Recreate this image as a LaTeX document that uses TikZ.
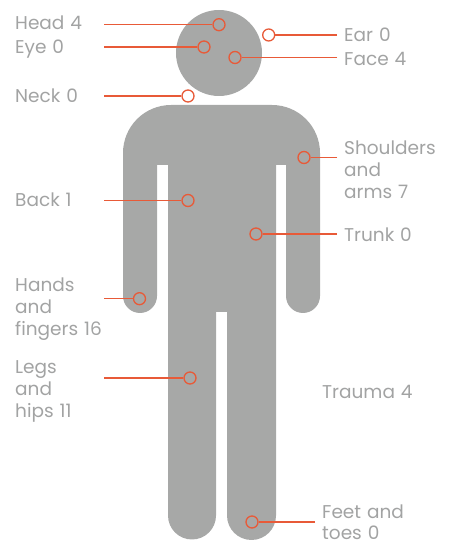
\documentclass[tikz,border=0pt]{standalone}
\usepackage{fontspec}
\setmainfont[WordSpace=1.2]{Poppins}
\definecolor{figgrey}{HTML}{A7A8A7}
\definecolor{labelgrey}{HTML}{A2A3A3}
\definecolor{markred}{HTML}{E85A38}
\tikzset{
  lbl/.style={anchor=west, align=left, inner sep=0pt, text=labelgrey, text height=13pt, text depth=0pt, font=\fontsize{18.5}{22}\selectfont},
  dot/.style={circle, draw=markred, line width=1.3pt, minimum size=12pt, inner sep=0pt},
  lead/.style={draw=markred, line width=1.3pt}
}
\begin{document}
\begin{tikzpicture}[x=1pt, y=1pt]
\useasboundingbox (0,0) rectangle (454,543);
\fill[figgrey] (219,490) circle (43);
\fill[figgrey] (171,438) -- (272,438) arc (90:0:48) -- (320,247) arc (0:-180:17) -- (286,378) -- (276,378) -- (276,27.5) arc (0:-180:24.5) -- (227,231) -- (216,231) -- (216,27.5) arc (0:-180:24) -- (168,378) -- (157,378) -- (157,247) arc (0:-180:17) -- (123,390) arc (180:90:48) -- cycle;
\node[dot] (headdot) at (219,518.3) {};
\node[dot] (eyedot) at (204,496) {};
\node[dot] (neckdot) at (188,447) {};
\node[dot] (backdot) at (188,342.5) {};
\node[dot] (handsdot) at (139.5,244.3) {};
\node[dot] (legsdot) at (190,165) {};
\node[dot] (eardot) at (268.7,508) {};
\node[dot] (facedot) at (235,485.5) {};
\node[dot] (shouldersdot) at (304,385.5) {};
\node[dot] (trunkdot) at (256,309) {};
\node[dot] (feetdot) at (252,21) {};
\coordinate (headend) at (104,518.3);
\coordinate (eyeend) at (104,496);
\coordinate (neckend) at (104,447);
\coordinate (backend) at (104,342.5);
\coordinate (handsend) at (104,244.3);
\coordinate (legsend) at (104,165);
\coordinate (earend) at (337,508);
\coordinate (faceend) at (337,485.5);
\coordinate (shouldersend) at (337,385.5);
\coordinate (trunkend) at (337,309);
\coordinate (feetend) at (315,21);
\draw[lead] (headend) -- (headdot);
\draw[lead] (eyeend) -- (eyedot);
\draw[lead] (neckend) -- (neckdot);
\draw[lead] (backend) -- (backdot);
\draw[lead] (handsend) -- (handsdot);
\draw[lead] (legsend) -- (legsdot);
\draw[lead] (earend) -- (eardot);
\draw[lead] (faceend) -- (facedot);
\draw[lead] (shouldersend) -- (shouldersdot);
\draw[lead] (trunkend) -- (trunkdot);
\draw[lead] (feetend) -- (feetdot);
\node[lbl] (headlbl) at (15,520) {Head 4};
\node[lbl] (eyelbl) at (15,495.5) {Eye 0};
\node[lbl] (necklbl) at (15,447) {Neck 0};
\node[lbl] (backlbl) at (15,343) {Back 1};
\node[lbl] (handslbl) at (15,214) {Hands\\and\\fingers 16};
\node[lbl] (legslbl) at (15,132) {Legs\\and\\hips 11};
\node[lbl] (earlbl) at (344,508) {Ear 0};
\node[lbl] (facelbl) at (344,484) {Face 4};
\node[lbl] (shoulderslbl) at (344,351) {Shoulders\\and\\arms 7};
\node[lbl] (trunklbl) at (344,308) {Trunk 0};
\node[lbl] (traumalbl) at (322,151) {Trauma 4};
\node[lbl] (feetlbl) at (322,9.5) {Feet and\\toes 0};
\end{tikzpicture}
\end{document}
